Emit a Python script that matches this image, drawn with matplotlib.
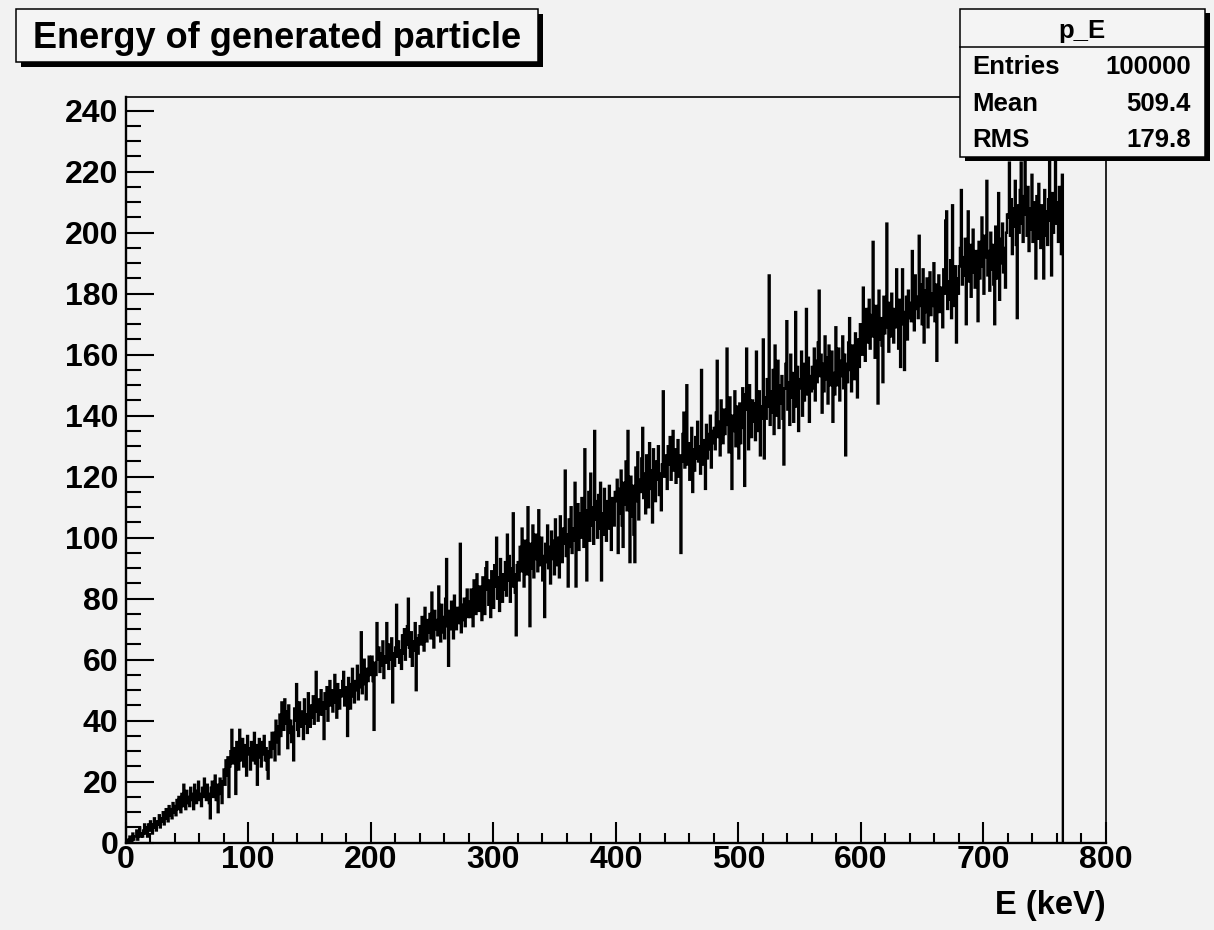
import numpy as np
import matplotlib
matplotlib.use("Agg")
import matplotlib.pyplot as plt
import matplotlib.font_manager as fm
from matplotlib.patches import Rectangle
from matplotlib.lines import Line2D
from matplotlib.ticker import MultipleLocator

# ---------------- data ----------------
bin_width = 0.8  # keV
counts_000_040 = [0, 0, 1, 0, 2, 1, 0, 3, 1, 2, 2, 4, 1, 3, 5, 2, 3, 2, 4, 6, 3, 5, 2, 6, 4,
                  7, 5, 3, 6, 8, 5, 4, 7, 6, 9, 5, 8, 7, 10, 6, 9, 11, 8, 7, 12, 9, 11, 8, 13, 10]
counts_040_080 = [12, 9, 14, 11, 15, 13, 10, 16, 12, 19, 14, 11, 17, 13, 15, 12, 18, 14, 16, 11,
                  19, 15, 13, 17, 20, 14, 16, 12, 18, 15, 21, 17, 14, 19, 16, 13, 8, 18, 20, 15,
                  17, 22, 14, 19, 10, 16, 21, 18, 13, 20]
counts_080_120 = [24, 19, 27, 22, 28, 15, 25, 30, 37, 26, 31, 28, 16, 33, 29, 24, 37, 30, 27, 34,
                  25, 32, 28, 22, 35, 29, 31, 24, 33, 27, 30, 36, 26, 32, 19, 28, 34, 30, 25, 33,
                  29, 35, 27, 31, 24, 21, 30, 33, 28, 36]
counts_120_160 = [31, 36, 27, 40, 33, 38, 29, 42, 35, 46, 41, 37, 47, 43, 39, 31, 45, 36, 40, 33,
                  38, 27, 44, 40, 52, 37, 35, 46, 41, 38, 43, 34, 47, 39, 42, 36, 49, 44, 38, 45,
                  41, 48, 39, 43, 56, 45, 40, 47, 42, 50]
counts_160_200 = [46, 42, 34, 49, 44, 51, 40, 47, 53, 45, 50, 43, 48, 55, 46, 41, 52, 47, 44, 50,
                  48, 53, 56, 45, 51, 47, 35, 54, 49, 44, 52, 57, 48, 46, 53, 50, 58, 47, 55, 51,
                  69, 49, 56, 60, 52, 47, 57, 53, 61, 55]
counts_200_240 = [57, 61, 53, 37, 59, 55, 72, 60, 64, 56, 62, 58, 66, 54, 61, 59, 72, 63, 57, 65,
                  60, 67, 46, 62, 58, 64, 78, 61, 66, 59, 63, 57, 68, 62, 70, 60, 65, 71, 80, 64,
                  61, 69, 58, 66, 63, 72, 50, 67, 62, 68]
counts_240_280 = [71, 65, 74, 68, 63, 77, 70, 66, 73, 69, 75, 67, 82, 71, 64, 76, 70, 73, 68, 84,
                  72, 66, 78, 69, 74, 67, 80, 93, 71, 58, 76, 70, 79, 73, 67, 81, 75, 70, 77, 72,
                  74, 98, 69, 78, 73, 80, 71, 76, 83, 74]
counts_280_320 = [79, 74, 83, 77, 71, 86, 80, 75, 88, 82, 76, 84, 79, 73, 87, 81, 75, 90, 92, 83,
                  78, 86, 74, 89, 82, 77, 91, 84, 100, 80, 87, 76, 93, 85, 79, 88, 83, 92, 81, 101,
                  86, 94, 79, 90, 84, 108, 88, 82, 68, 91]
counts_320_360 = [92, 86, 97, 89, 103, 91, 84, 99, 94, 88, 110, 96, 71, 98, 90, 104, 87, 95, 101, 93,
                  89, 109, 97, 91, 100, 86, 94, 74, 98, 92, 104, 90, 97, 85, 102, 93, 99, 88, 106, 95,
                  91, 100, 87, 107, 96, 92, 103, 98, 122, 94]
counts_360_400 = [101, 84, 106, 97, 110, 95, 103, 99, 118, 84, 105, 111, 96, 108, 100, 113, 102, 97, 129, 107,
                  86, 109, 115, 99, 121, 104, 110, 98, 135, 112, 106, 100, 114, 103, 118, 86, 108, 101, 116, 105,
                  99, 112, 103, 117, 107, 96, 113, 109, 104, 115]
counts_400_440 = [112, 119, 95, 116, 108, 122, 104, 97, 118, 111, 125, 109, 135, 114, 92, 120, 107, 117, 101, 92,
                  123, 112, 128, 106, 119, 115, 126, 136, 113, 121, 108, 127, 118, 110, 131, 116, 122, 105, 129, 117,
                  112, 125, 119, 130, 114, 121, 109, 124, 148, 120]
counts_440_480 = [127, 121, 116, 130, 124, 133, 119, 128, 135, 122, 129, 118, 126, 132, 120, 127, 95, 125, 134, 141,
                  123, 130, 150, 124, 131, 119, 127, 136, 115, 129, 122, 133, 126, 138, 125, 130, 121, 155, 128, 124,
                  132, 116, 137, 126, 134, 129, 140, 123, 135, 131]
counts_480_520 = [136, 129, 141, 158, 133, 138, 127, 145, 135, 131, 142, 134, 139, 162, 137, 128, 146, 132, 116, 140,
                  135, 148, 130, 143, 138, 126, 144, 131, 136, 149, 139, 117, 147, 162, 142, 129, 150, 137, 133, 145,
                  138, 144, 132, 161, 140, 135, 148, 127, 143, 139]
counts_520_560 = [165, 126, 146, 139, 152, 143, 186, 137, 148, 141, 155, 134, 163, 147, 140, 158, 136, 150, 144, 153,
                  139, 124, 149, 157, 171, 142, 151, 137, 160, 146, 154, 138, 147, 174, 143, 156, 135, 152, 149, 161,
                  140, 157, 145, 150, 175, 147, 159, 138, 153, 148]
counts_560_600 = [156, 149, 162, 145, 158, 151, 164, 181, 153, 160, 141, 157, 148, 166, 152, 159, 144, 163, 150, 155,
                  161, 138, 154, 147, 169, 156, 150, 162, 145, 158, 153, 166, 149, 160, 127, 157, 151, 164, 172, 155,
                  148, 163, 158, 152, 167, 159, 146, 165, 156, 170]
counts_600_640 = [167, 160, 182, 171, 158, 175, 164, 169, 178, 162, 173, 166, 197, 170, 159, 176, 168, 144, 181, 165,
                  172, 163, 151, 179, 167, 174, 203, 169, 161, 177, 166, 180, 171, 164, 175, 169, 188, 173, 162, 178,
                  156, 170, 188, 174, 155, 168, 179, 165, 181, 172]
counts_640_680 = [177, 171, 194, 182, 168, 186, 175, 179, 172, 199, 183, 176, 170, 188, 164, 181, 174, 185, 169, 178,
                  187, 173, 180, 176, 190, 171, 183, 158, 179, 186, 174, 182, 177, 169, 188, 180, 204, 207, 175, 184,
                  178, 191, 172, 209, 181, 176, 189, 164, 185, 180]
counts_680_720 = [189, 195, 214, 183, 192, 186, 198, 170, 190, 207, 184, 196, 179, 191, 201, 187, 182, 194, 188, 171,
                  197, 185, 193, 205, 189, 180, 199, 192, 217, 186, 194, 181, 200, 188, 196, 183, 170, 202, 191, 185,
                  213, 178, 198, 190, 203, 187, 195, 182, 200, 206]
counts_720_760 = [205, 223, 199, 211, 193, 208, 202, 217, 196, 172, 209, 200, 214, 223, 203, 197, 212, 233, 206, 199,
                  215, 194, 208, 201, 219, 197, 210, 204, 185, 212, 198, 216, 203, 195, 209, 201, 185, 214, 199, 207,
                  196, 211, 230, 204, 186, 213, 200, 209, 228, 203]
counts_760_765 = [210, 197, 215, 204, 193, 219]

title_text = "Energy of generated particle"
hist_name = "p_E"
stat_labels = ["Entries", "Mean", "RMS"]
stat_values = ["100000", "509.4", "179.8"]
x_label = "E (keV)"
x_range = (0, 800)
y_range = (0, 244.6)

counts = np.array(counts_000_040 + counts_040_080 + counts_080_120 + counts_120_160 +
                  counts_160_200 + counts_200_240 + counts_240_280 + counts_280_320 +
                  counts_320_360 + counts_360_400 + counts_400_440 + counts_440_480 +
                  counts_480_520 + counts_520_560 + counts_560_600 + counts_600_640 +
                  counts_640_680 + counts_680_720 + counts_720_760 + counts_760_765, dtype=float)
edges = np.arange(len(counts) + 1) * bin_width

# ---------------- fonts ----------------
avail = {f.name for f in fm.fontManager.ttflist}
if "Liberation Sans Narrow" in avail:
    tick_family = ["Liberation Sans Narrow", "DejaVu Sans"]
    tick_size = 24.5
else:
    tick_family = ["Liberation Sans", "DejaVu Sans"]
    tick_size = 23
main_family = ["Liberation Sans", "DejaVu Sans"]

# ---------------- figure ----------------
W, H = 1214, 930
BG = "#f2f2f2"
fig = plt.figure(figsize=(W / 100, H / 100), dpi=100, facecolor=BG)

def fx(x):
    return x / W

def fy(y):
    return 1 - y / H

left, right, top, bottom = 125.5, 1106.0, 96.7, 842.7
ax = fig.add_axes([fx(left), fy(bottom), fx(right - left), (bottom - top) / H], facecolor=BG)

ax.stairs(counts, edges, baseline=0, color="black", linewidth=1.7)

ax.set_xlim(*x_range)
ax.set_ylim(*y_range)
ax.xaxis.set_major_locator(MultipleLocator(100))
ax.xaxis.set_minor_locator(MultipleLocator(20))
ax.yaxis.set_major_locator(MultipleLocator(20))
ax.yaxis.set_minor_locator(MultipleLocator(5))
ax.tick_params(which="both", direction="in", top=False, right=False, width=1.5, color="black")
ax.tick_params(axis="y", which="major", length=20.5, pad=5)
ax.tick_params(axis="y", which="minor", length=10.5)
ax.tick_params(axis="x", which="major", length=15, pad=1.5)
ax.tick_params(axis="x", which="minor", length=7.5)
for lab in ax.get_xticklabels() + ax.get_yticklabels():
    lab.set_fontfamily(tick_family)
    lab.set_fontsize(tick_size)
    lab.set_fontweight("bold")

for side in ["left", "bottom"]:
    ax.spines[side].set_linewidth(1.7)
for side in ["top", "right"]:
    ax.spines[side].set_linewidth(1.2)

# x-axis title
fig.text(fx(1106), fy(914), x_label, ha="right", va="baseline",
         family=main_family, fontweight="bold", fontsize=23.5)

# ---------------- boxes ----------------
def shadow_box(x0, y0, x1, y1, off=4.5, z=10):
    fig.add_artist(Rectangle((fx(x0 + off), fy(y1 + off)), fx(x1 - x0), (y1 - y0) / H,
                             facecolor="black", edgecolor="black", linewidth=0,
                             transform=fig.transFigure, zorder=z))
    fig.add_artist(Rectangle((fx(x0), fy(y1)), fx(x1 - x0), (y1 - y0) / H,
                             facecolor="#f4f4f4", edgecolor="black", linewidth=1.1,
                             transform=fig.transFigure, zorder=z + 1))

shadow_box(16, 9.5, 538, 62.5)
fig.text(fx(277), fy(48.5), title_text, ha="center", va="baseline",
         family=main_family, fontweight="bold", fontsize=26, zorder=12)

shadow_box(960, 9, 1205, 157)
fig.add_artist(Line2D([fx(960), fx(1205)], [fy(47), fy(47)], color="black",
                      linewidth=1.1, transform=fig.transFigure, zorder=12))
fig.text(fx(1082), fy(38), hist_name, ha="center", va="baseline",
         family=main_family, fontweight="bold", fontsize=18.5, zorder=12)
for lab, val, yb in zip(stat_labels, stat_values, [74, 111, 147]):
    fig.text(fx(972), fy(yb), lab, ha="left", va="baseline",
             family=main_family, fontweight="bold", fontsize=18.5, zorder=12)
    fig.text(fx(1191), fy(yb), val, ha="right", va="baseline",
             family=main_family, fontweight="bold", fontsize=18.5, zorder=12)

fig.savefig("out.png", dpi=100, facecolor=BG)
